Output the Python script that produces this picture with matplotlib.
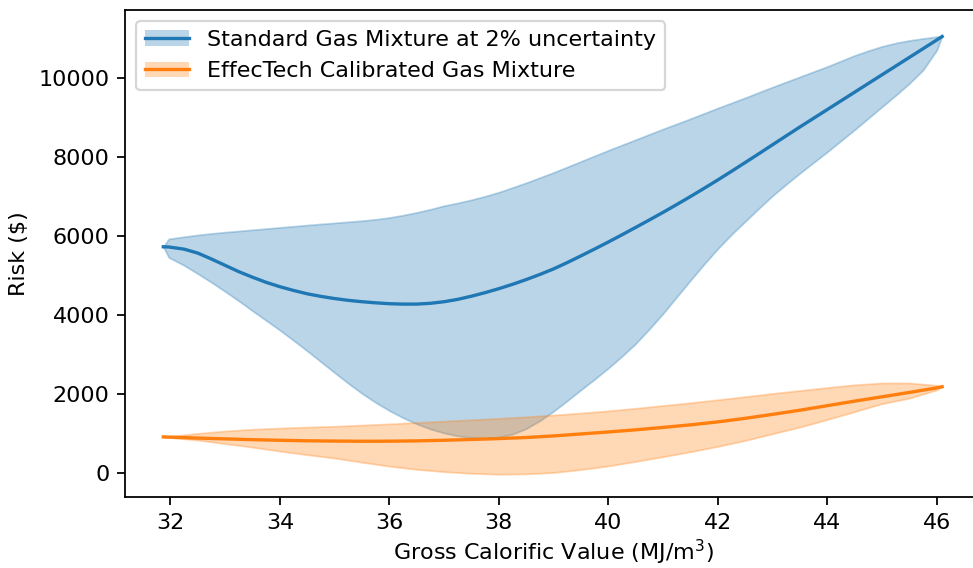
import matplotlib
matplotlib.use("Agg")
import matplotlib.pyplot as plt
from matplotlib.patches import Patch
from matplotlib.lines import Line2D

# ---- data ----
gcv_std = [31.87, 31.97, 32.25, 32.5, 32.75, 33.0, 33.25, 33.5, 33.75, 34.0, 34.25, 34.5,
           34.75, 35.0, 35.25, 35.5, 35.75, 36.0, 36.25, 36.5, 36.75, 37.0, 37.25, 37.5,
           37.75, 38.0, 38.25, 38.5, 38.75, 39.0, 39.25, 39.5, 39.75, 40.0, 40.25, 40.5,
           40.75, 41.0, 41.25, 41.5, 41.75, 42.0, 42.25, 42.5, 42.75, 43.0, 43.25, 43.5,
           43.75, 44.0, 44.25, 44.5, 44.75, 45.0, 45.25, 45.5, 45.75, 46.0, 46.1]
std_mean = [5730, 5725, 5670, 5570, 5420, 5260, 5100, 4960, 4830, 4720, 4625, 4540,
            4475, 4420, 4375, 4340, 4312, 4290, 4280, 4280, 4300, 4340, 4400, 4480,
            4570, 4670, 4780, 4900, 5030, 5170, 5330, 5500, 5673, 5850, 6033, 6220,
            6408, 6600, 6798, 7000, 7208, 7420, 7638, 7860, 8083, 8310, 8535, 8760,
            8980, 9200, 9420, 9640, 9860, 10080, 10300, 10520, 10740, 10960, 11050]
std_upper = [5730, 5930, 5985, 6030, 6068, 6100, 6130, 6160, 6190, 6220, 6250, 6280,
             6308, 6335, 6362, 6390, 6425, 6470, 6530, 6600, 6680, 6770, 6840, 6920,
             7010, 7110, 7230, 7350, 7480, 7610, 7750, 7890, 8030, 8170, 8305, 8440,
             8575, 8710, 8840, 8970, 9105, 9240, 9370, 9500, 9635, 9770, 9900, 10030,
             10160, 10290, 10430, 10570, 10690, 10800, 10885, 10950, 11000, 11045, 11063]
std_lower = [5730, 5460, 5260, 5050, 4830, 4600, 4360, 4110, 3865, 3620, 3360, 3095,
             2820, 2545, 2275, 2020, 1790, 1585, 1405, 1250, 1120, 1020, 945, 905,
             890, 915, 990, 1130, 1330, 1570, 1835, 2110, 2380, 2660, 2960, 3280,
             3650, 4040, 4460, 4880, 5290, 5680, 6040, 6370, 6700, 7020, 7310, 7590,
             7860, 8130, 8410, 8690, 8980, 9270, 9560, 9860, 10200, 10700, 11063]

gcv_eff = [31.87, 32.5, 33.0, 33.5, 34.0, 34.5, 35.0, 35.5, 36.0, 36.5, 37.0, 37.5,
           38.0, 38.5, 39.0, 39.5, 40.0, 40.5, 41.0, 41.5, 42.0, 42.5, 43.0, 43.5,
           44.0, 44.5, 45.0, 45.5, 46.0, 46.1]
eff_mean = [920, 890, 870, 850, 835, 822, 815, 810, 812, 820, 835, 855,
            878, 905, 945, 995, 1045, 1100, 1160, 1225, 1300, 1390, 1490, 1595,
            1710, 1825, 1935, 2045, 2160, 2190]
eff_upper = [920, 1010, 1070, 1115, 1145, 1170, 1190, 1220, 1250, 1285, 1320, 1355,
             1390, 1430, 1475, 1525, 1580, 1645, 1715, 1785, 1860, 1940, 2020, 2095,
             2170, 2240, 2285, 2285, 2225, 2190]
eff_lower = [920, 840, 750, 660, 560, 470, 385, 280, 180, 100, 40, 0,
             -25, -15, 20, 95, 185, 300, 420, 545, 680, 830, 1000, 1170,
             1360, 1560, 1760, 1900, 2110, 2190]

labels = ["Standard Gas Mixture at 2% uncertainty", "EffecTech Calibrated Gas Mixture"]
x_ticks = [32, 34, 36, 38, 40, 42, 44, 46]
y_ticks = [0, 2000, 4000, 6000, 8000, 10000]

# ---- figure ----
W, H, DPI = 973, 568, 160
fig = plt.figure(figsize=(W / DPI, H / DPI), dpi=DPI)
ax = fig.add_axes([125 / W, (H - 497) / H, (981 - 125) / W, (497 - 10) / H])

c1, c2 = "#1f77b4", "#ff7f0e"
ax.fill_between(gcv_std, std_lower, std_upper, color=c1, alpha=0.3, lw=0.8)
ax.plot(gcv_std, std_mean, color=c1, lw=1.5)
ax.fill_between(gcv_eff, eff_lower, eff_upper, color=c2, alpha=0.3, lw=0.8)
ax.plot(gcv_eff, eff_mean, color=c2, lw=1.5)

ax.set_xlim(31.17, 46.81)
ax.set_ylim(-600, 11720)
ax.set_xticks(x_ticks)
ax.set_yticks(y_ticks)
ax.set_xlabel("Gross Calorific Value (MJ/m$^3$)", labelpad=2.5)
ax.set_ylabel("Risk (\\$)")

handles = [(Patch(facecolor=c1, alpha=0.3), Line2D([], [], color=c1, lw=1.5)),
           (Patch(facecolor=c2, alpha=0.3), Line2D([], [], color=c2, lw=1.5))]
ax.legend(handles, labels, loc="upper left")

fig.savefig("out.png", dpi=DPI)
